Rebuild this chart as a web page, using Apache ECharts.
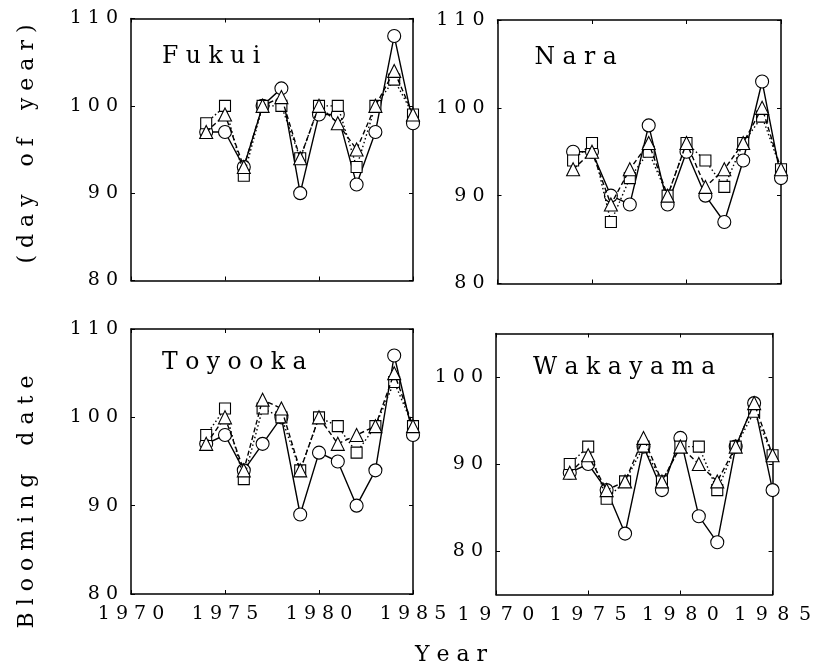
<!DOCTYPE html>
<html>
<head>
<meta charset="utf-8">
<script src="https://cdn.jsdelivr.net/npm/echarts@6/dist/echarts.min.js"></script>
<style>
  html, body { margin: 0; padding: 0; background: #fff; }
  #chart { width: 814px; height: 671px; }
</style>
</head>
<body>
<div id="chart"></div>
<script>
// Cherry blossom blooming dates (day of year), 1974-1985, four stations.
// Three estimates per station: circles, triangles, squares.
const years = [1974, 1975, 1976, 1977, 1978, 1979, 1980, 1981, 1982, 1983, 1984, 1985];
const stationNames = ['Fukui', 'Nara', 'Toyooka', 'Wakayama'];

const fukuiCircle   = [97, 97, 93, 100, 102, 90, 99, 99, 91, 97, 108, 98];
const fukuiTriangle = [97, 99, 93, 100, 101, 94, 100, 98, 95, 100, 104, 99];
const fukuiSquare   = [98, 100, 92, 100, 100, 94, 100, 100, 93, 100, 103, 99];

const naraCircle   = [95, 95, 90, 89, 98, 89, 95, 90, 87, 94, 103, 92];
const naraTriangle = [93, 95, 89, 93, 96, 90, 96, 91, 93, 96, 100, 93];
const naraSquare   = [94, 96, 87, 92, 95, 90, 96, 94, 91, 96, 99, 93];

const toyookaCircle   = [97, 98, 94, 97, 100, 89, 96, 95, 90, 94, 107, 98];
const toyookaTriangle = [97, 100, 94, 102, 101, 94, 100, 97, 98, 99, 105, 99];
const toyookaSquare   = [98, 101, 93, 101, 100, 94, 100, 99, 96, 99, 104, 99];

const wakayamaCircle   = [89, 90, 87, 82, 92, 87, 93, 84, 81, 92, 97, 87];
const wakayamaTriangle = [89, 91, 87, 88, 93, 88, 92, 90, 88, 92, 97, 91];
const wakayamaSquare   = [90, 92, 86, 88, 92, 88, 92, 92, 87, 92, 96, 91];

const xTicks = [1970, 1975, 1980, 1985];
const yTicksMain = [80, 90, 100, 110];
const yTicksWakayama = [80, 90, 100];

const seriesByStation = [
  [fukuiCircle, fukuiSquare, fukuiTriangle],
  [naraCircle, naraSquare, naraTriangle],
  [toyookaCircle, toyookaSquare, toyookaTriangle],
  [wakayamaCircle, wakayamaSquare, wakayamaTriangle]
];

// Typewriter-style letter spacing used throughout the figure
const spaced = (s, gap) => String(s).split('').join(gap || ' ');
const spacedWords = (s) => s.split(' ').map(w => spaced(w)).join('    ');

const FONT = '"DejaVu Serif", serif';

// Panel frames (left, top, width, height)
const panels = [
  { left: 131, top: 18.5, width: 282, height: 262, yMin: 80, yMax: 110, xLabels: false, gap: ' ' },
  { left: 497.5, top: 20, width: 283.5, height: 263.5, yMin: 80, yMax: 110, xLabels: false, gap: ' ' },
  { left: 131, top: 329, width: 282, height: 265, yMin: 80, yMax: 110, xLabels: true, gap: ' ' },
  { left: 496, top: 333.5, width: 285, height: 261, yMin: 75, yMax: 105, xLabels: true, gap: '\u2002' }
];

const axisLine = { show: true, lineStyle: { color: '#000', width: 1.5 } };
const tick = { show: true, inside: true, length: 4, lineStyle: { color: '#000', width: 1 } };

const grid = [], xAxis = [], yAxis = [], series = [], title = [];

panels.forEach((p, i) => {
  grid.push({ left: p.left, top: p.top, width: p.width, height: p.height, containLabel: false });
  const yTicks = i === 3 ? yTicksWakayama : yTicksMain;
  const xBase = {
    type: 'value', gridIndex: i, min: xTicks[0], max: xTicks[xTicks.length - 1], interval: 5,
    splitLine: { show: false }, axisLine: axisLine,
    axisTick: Object.assign({}, tick, { customValues: xTicks })
  };
  xAxis.push(Object.assign({}, xBase, {
    position: 'bottom',
    axisLabel: {
      show: p.xLabels, customValues: xTicks, margin: 11,
      fontFamily: FONT, fontSize: 19, color: '#000',
      formatter: v => spaced(v, p.gap)
    }
  }));
  xAxis.push(Object.assign({}, xBase, { position: 'top', axisLabel: { show: false } }));
  const yBase = {
    type: 'value', gridIndex: i, min: p.yMin, max: p.yMax,
    splitLine: { show: false }, axisLine: axisLine,
    axisTick: Object.assign({}, tick, { customValues: yTicks })
  };
  yAxis.push(Object.assign({}, yBase, {
    position: 'left',
    axisLabel: {
      show: true, customValues: yTicks, margin: 13,
      fontFamily: FONT, fontSize: 19, color: '#000',
      formatter: v => spaced(v)
    }
  }));
  yAxis.push(Object.assign({}, yBase, { position: 'right', axisLabel: { show: false } }));

  const styles = [
    { symbol: 'circle', size: 13, type: 'solid' },
    { symbol: 'rect', size: 11, type: [1.5, 2.5] },
    { symbol: 'triangle', size: 13, type: [5, 3] }
  ];
  seriesByStation[i].forEach((vals, k) => {
    const st = styles[k];
    series.push({
      type: 'line', xAxisIndex: i * 2, yAxisIndex: i * 2,
      data: years.map((y, j) => [y, vals[j]]),
      symbol: st.symbol, symbolSize: st.size, showAllSymbol: true,
      lineStyle: { color: '#000', width: 1.4, type: st.type },
      itemStyle: { color: '#fff', borderColor: '#000', borderWidth: 1.1 },
      z: 2 + k, silent: true
    });
  });

  title.push({
    text: spaced(stationNames[i]),
    left: p.left + (i % 2 === 0 ? 31 : 37),
    top: p.top + (i < 2 ? 26 : 22),
    padding: 0,
    textStyle: { fontFamily: FONT, fontSize: 23.5, fontWeight: 'normal', color: '#000' }
  });
});

const chart = echarts.init(document.getElementById('chart'), null, { renderer: 'canvas' });
chart.setOption({
  animation: false,
  backgroundColor: '#fff',
  title, grid, xAxis, yAxis, series,
  graphic: [
    {
      type: 'text', x: 27, y: 502, rotation: Math.PI / 2,
      style: { text: spacedWords('Blooming date'), font: '22px ' + FONT, fill: '#000', align: 'center', verticalAlign: 'middle' }
    },
    {
      type: 'text', x: 27, y: 144, rotation: Math.PI / 2,
      style: { text: spacedWords('(day of year)'), font: '22px ' + FONT, fill: '#000', align: 'center', verticalAlign: 'middle' }
    },
    {
      type: 'text', x: 451, y: 655,
      style: { text: spaced('Year'), font: '22px ' + FONT, fill: '#000', align: 'center', verticalAlign: 'middle' }
    }
  ]
});
</script>
</body>
</html>
